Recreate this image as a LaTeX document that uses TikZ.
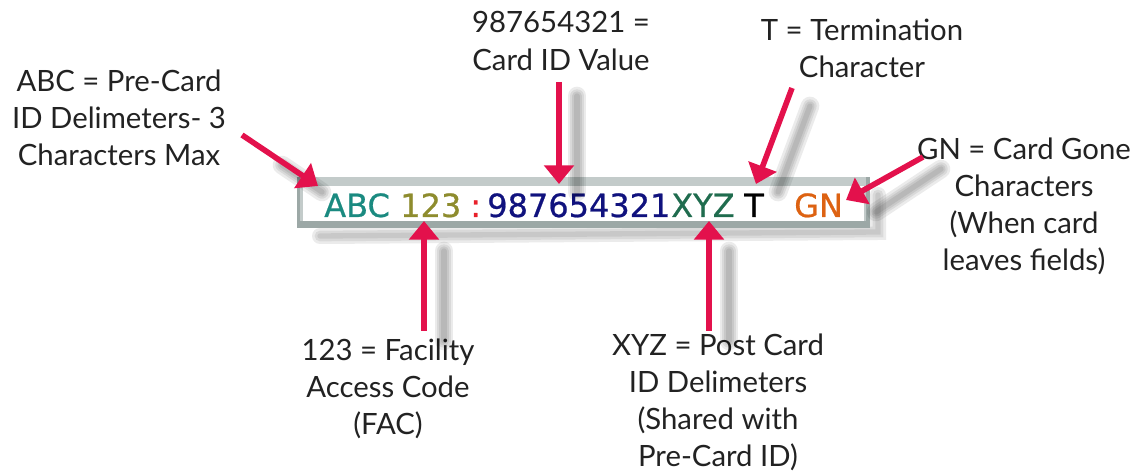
\documentclass[tikz,border=0pt]{standalone}
\usepackage{fontspec}
\usetikzlibrary{arrows.meta}
\setmainfont{Lato}
\newfontfamily\boxfont[FakeBold=0.7]{DejaVu Sans}
\definecolor{arr}{HTML}{E3114C}
\definecolor{cteal}{HTML}{1A8A80}
\definecolor{colive}{HTML}{8E8C2E}
\definecolor{cnavy}{HTML}{10127E}
\definecolor{cgreen}{HTML}{1F6C4E}
\definecolor{corange}{HTML}{DD6212}
\definecolor{cred}{HTML}{E8202A}
\definecolor{frame}{HTML}{C3CBCA}
\definecolor{framedk}{HTML}{9CA8A6}
\definecolor{txt}{HTML}{222222}
\begin{document}
\begin{tikzpicture}[x=0.75pt,y=-0.75pt,
  lbl/.style={align=center,text=txt,font=\fontsize{22}{27.8}\selectfont,inner sep=0pt},
  bx/.style={anchor=base west,inner sep=0pt,font=\boxfont\fontsize{24}{28}\selectfont},
  arrow/.style={draw=arr,line width=4.2pt,-{Triangle[width=22pt,length=14pt]}},
  shad/.style={draw=black,line cap=round,opacity=0.08}]
\useasboundingbox (0,0) rectangle (1141,473);
% box
\foreach \w in {12,8,4}{
  \draw[shad,line width=\w pt] (878,195) -- (878,232) -- (320,236);
}
\fill[frame] (297,177) rectangle (870,228);
\fill[framedk] (297,221) rectangle (870,228);
\fill[framedk] (297,177) rectangle (300,228);
\fill[framedk] (866,177) rectangle (870,228);
\fill[white] (303,186) rectangle (864,221);
% box text
\node[bx,text=cteal] (abc) at (324,217) {ABC};
\node[bx,text=colive] (n123) at (400,217) {123};
\node[bx,text=cred] (colon) at (470,217) {:};
\node[bx,text=cnavy] (num) at (487,217) {987654321};
\node[bx,text=cgreen] (xyz) at (671,217) {XYZ};
\node[bx,text=black] (t) at (744,217) {T};
\node[bx,text=corange] (gn) at (794,217) {GN};
% labels
\node[lbl] (l1) at (119,118) {ABC = Pre-Card\\ID Delimeters- 3\\Characters Max};
\node[lbl] (l2) at (561,41) {987654321 =\\Card ID Value};
\node[lbl] (l3) at (862,48) {T = Termination\\Character};
\node[lbl] (l4) at (1024,206) {GN = Card Gone\\Characters\\(When card\\leaves fields)};
\node[lbl] (l5) at (388,389) {123 = Facility\\Access Code\\(FAC)};
\node[lbl] (l6) at (718,402) {XYZ = Post Card\\ID Delimeters\\(Shared with\\Pre-Card ID)};
% arrow coordinates
\coordinate (s1) at (242,135); \coordinate (e1) at (318,186);
\coordinate (s2) at (559,82);  \coordinate (e2) at (559,184);
\coordinate (s3) at (792,88);  \coordinate (e3) at (756,184);
\coordinate (s4) at (923,157); \coordinate (e4) at (846,200);
\coordinate (s5) at (424,331); \coordinate (e5) at (424,221);
\coordinate (s6) at (709,331); \coordinate (e6) at (709,221);
% shadows
\foreach \w in {14,10,7,4}{
  \draw[shad,line width=\w pt] ([shift={(18,14)}]s2) -- ([shift={(18,8)}]e2);
  \draw[shad,line width=\w pt] ([shift={(18,18)}]s3) -- ([shift={(22,8)}]e3);
  \draw[shad,line width=\w pt] ([shift={(18,12)}]s4) -- ([shift={(30,12)}]e4);
  \draw[shad,line width=\w pt] ([shift={(20,10)}]s5) -- ([shift={(20,30)}]e5);
  \draw[shad,line width=\w pt] ([shift={(20,10)}]s6) -- ([shift={(20,30)}]e6);
  \draw[shad,line width=\w pt] ([shift={(40,30)}]s1) -- ([shift={(4,6)}]e1);
}
% arrows
\draw[arrow] (s1) -- (e1);
\draw[arrow] (s2) -- (e2);
\draw[arrow] (s3) -- (e3);
\draw[arrow] (s4) -- (e4);
\draw[arrow] (s5) -- (e5);
\draw[arrow] (s6) -- (e6);
\end{tikzpicture}
\end{document}
